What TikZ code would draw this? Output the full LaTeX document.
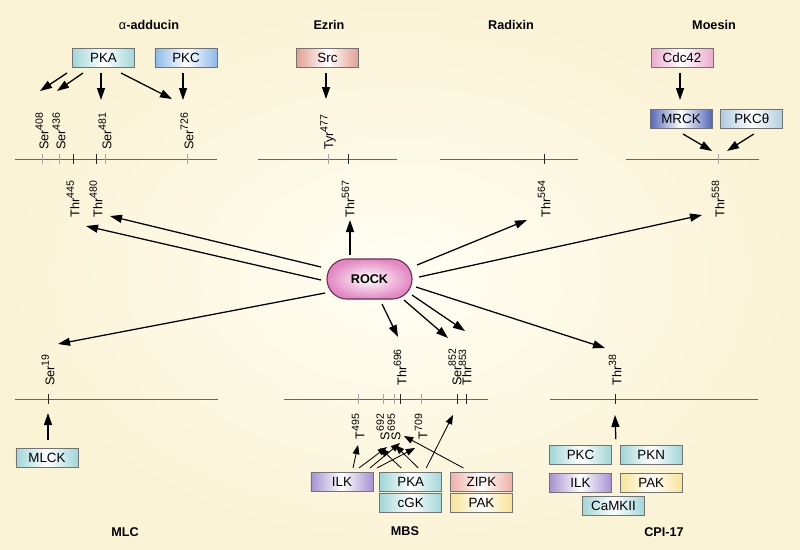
\documentclass[tikz,border=0pt]{standalone}
\usepackage{fontspec}
\setmainfont{Liberation Sans}
\usetikzlibrary{arrows.meta,positioning}

\definecolor{bgin}{RGB}{255,254,244}
\definecolor{bgout}{RGB}{251,243,214}
\definecolor{tealc}{RGB}{160,214,216}
\definecolor{bluec}{RGB}{140,186,232}
\definecolor{salmc}{RGB}{226,160,146}
\definecolor{pinkc}{RGB}{234,170,206}
\definecolor{navyc}{RGB}{84,104,186}
\definecolor{steelc}{RGB}{176,204,222}
\definecolor{lilac}{RGB}{166,146,208}
\definecolor{peach}{RGB}{236,176,166}
\definecolor{butter}{RGB}{248,228,150}
\definecolor{rockc}{RGB}{226,136,194}
\definecolor{rockd}{RGB}{110,44,84}

\newcommand{\supn}[1]{\textsuperscript{\fontsize{7.5}{7.5}\selectfont #1}}

\tikzset{
  kin/.style={draw=black!55, line width=0.5pt, minimum width=1.55cm,
    minimum height=0.475cm, inner sep=0pt, font=\fontsize{9.5}{10}\selectfont,
    left color=#1, right color=#1, middle color=white},
  title/.style={font=\fontsize{9}{10}\selectfont\bfseries},
  siteup/.style={rotate=90, anchor=west, inner sep=0pt, font=\fontsize{9}{9}\selectfont},
  sitedn/.style={rotate=90, anchor=east, inner sep=0pt, font=\fontsize{9}{9}\selectfont},
  arr/.style={-{Triangle[length=3mm,width=2mm]}, line width=0.9pt},
  sarr/.style={-{Triangle[length=2.3mm,width=1.7mm]}, line width=0.6pt},
  track/.style={draw=black!60, line width=0.7pt},
  gtick/.style={draw=black!35, line width=0.6pt},
  btick/.style={draw=black!85, line width=0.6pt},
}

\begin{document}
\begin{tikzpicture}[x=0.025cm, y=-0.025cm]
\def\ytop{159}
\def\ybot{399}
\def\yup{150}
\def\ydn{180}
\def\yupb{386}
\def\ydnb{413}

\useasboundingbox (0,0) rectangle (800,549);
\shade[inner color=bgin, outer color=bgout] (0,0) rectangle (800,549);

% titles
\node[title] (tadd) at (149,25) {{\mdseries α}-adducin};
\node[title] (tezr) at (329,25) {Ezrin};
\node[title] (trad) at (511,25) {Radixin};
\node[title] (tmoe) at (714,25) {Moesin};
\node[title] (tmlc) at (125,532) {MLC};
\node[title] (tmbs) at (405,531) {MBS};
\node[title] (tcpi) at (664,532) {CPI-17};

% tracks
\coordinate (addl) at (15,\ytop);  \coordinate (addr) at (217,\ytop);
\coordinate (ezrl) at (258,\ytop); \coordinate (ezrr) at (397,\ytop);
\coordinate (radl) at (440,\ytop); \coordinate (radr) at (578,\ytop);
\coordinate (moel) at (626,\ytop); \coordinate (moer) at (759,\ytop);
\coordinate (mlcl) at (15,\ybot);  \coordinate (mlcr) at (218,\ybot);
\coordinate (mbsl) at (284,\ybot); \coordinate (mbsr) at (488,\ybot);
\coordinate (cpil) at (550,\ybot); \coordinate (cpir) at (758,\ybot);
\draw[track] (addl) -- (addr);
\draw[track] (ezrl) -- (ezrr);
\draw[track] (radl) -- (radr);
\draw[track] (moel) -- (moer);
\draw[track] (mlcl) -- (mlcr);
\draw[track] (mbsl) -- (mbsr);
\draw[track] (cpil) -- (cpir);

% ticks, top row
\draw[gtick] (42,\ytop-5) -- (42,\ytop+5);
\draw[gtick] (59,\ytop-5) -- (59,\ytop+5);
\draw[btick] (73,\ytop-5) -- (73,\ytop+5);
\draw[btick] (96,\ytop-5) -- (96,\ytop+5);
\draw[gtick] (105,\ytop-5) -- (105,\ytop+5);
\draw[gtick] (187,\ytop-5) -- (187,\ytop+5);
\draw[gtick] (328,\ytop-5) -- (328,\ytop+5);
\draw[btick] (348,\ytop-5) -- (348,\ytop+5);
\draw[btick] (544,\ytop-5) -- (544,\ytop+5);
\draw[gtick] (718,\ytop-5) -- (718,\ytop+5);
% ticks, bottom row
\draw[btick] (48,\ybot-5) -- (48,\ybot+5);
\draw[gtick] (358,\ybot-5) -- (358,\ybot+5);
\draw[gtick] (383,\ybot-5) -- (383,\ybot+5);
\draw[gtick] (394,\ybot-5) -- (394,\ybot+5);
\draw[btick] (400,\ybot-5) -- (400,\ybot+5);
\draw[gtick] (421,\ybot-5) -- (421,\ybot+5);
\draw[btick] (457,\ybot-5) -- (457,\ybot+5);
\draw[btick] (466,\ybot-5) -- (466,\ybot+5);
\draw[btick] (615,\ybot-5) -- (615,\ybot+5);

% site labels
\node[siteup] (s408) at (42,\yup) {Ser\supn{408}};
\node[siteup] (s436) at (59,\yup) {Ser\supn{436}};
\node[siteup] (s481) at (105,\yup) {Ser\supn{481}};
\node[siteup] (s726) at (187,\yup) {Ser\supn{726}};
\node[sitedn] (t445) at (73,\ydn) {Thr\supn{445}};
\node[sitedn] (t480) at (96,\ydn) {Thr\supn{480}};
\node[siteup] (y477) at (328,\yup) {Tyr\supn{477}};
\node[sitedn] (t567) at (348,\ydn) {Thr\supn{567}};
\node[sitedn] (t564) at (544,\ydn) {Thr\supn{564}};
\node[sitedn] (t558) at (718,\ydn) {Thr\supn{558}};
\node[siteup] (s19) at (48,\yupb) {Ser\supn{19}};
\node[siteup] (t696) at (400,\yupb) {Thr\supn{696}};
\node[siteup] (s852) at (455,\yupb) {Ser\supn{852}};
\node[siteup] (t853) at (465,\yupb) {Thr\supn{853}};
\node[siteup] (t38) at (615,\yupb) {Thr\supn{38}};
\node[sitedn] (t495) at (358,\ydnb) {T\supn{495}};
\node[sitedn] (s692) at (383,\ydnb) {S\supn{692}};
\node[sitedn] (s695) at (394,\ydnb) {S\supn{695}};
\node[sitedn] (t709) at (421,\ydnb) {T\supn{709}};

% kinases
\node[kin=tealc] (pka) at (103.5,57.5) {PKA};
\node[kin=bluec] (pkc) at (186,57.5) {PKC};
\node[kin=salmc] (src) at (327.5,57.5) {Src};
\node[kin=pinkc] (cdc) at (682,57.5) {Cdc42};
\node[kin=navyc] (mrck) at (681,119) {MRCK};
\node[kin=steelc, right=0.2cm of mrck] (pkct) {PKCθ};
\node[kin=tealc] (mlck) at (47,457.5) {MLCK};
\node[kin=lilac] (milk) at (342,481.5) {ILK};
\node[kin=tealc, right=0.15cm of milk] (mpka) {PKA};
\node[kin=peach, right=0.2cm of mpka] (mzip) {ZIPK};
\node[kin=tealc, below=0.05cm of mpka] (mcgk) {cGK};
\node[kin=butter, below=0.05cm of mzip] (mpak) {PAK};
\node[kin=tealc] (cpkc) at (580.5,455) {PKC};
\node[kin=tealc, right=0.2cm of cpkc] (cpkn) {PKN};
\node[kin=lilac, below=0.2cm of cpkc] (cilk) {ILK};
\node[kin=butter, below=0.2cm of cpkn] (cpak) {PAK};
\node[kin=tealc] (ccam) at (613.5,506) {CaMKII};

% ROCK
\node[draw=rockd, line width=0.8pt, rounded corners=0.5cm, minimum width=2.125cm,
  minimum height=1cm, inner color=white, outer color=rockc,
  font=\fontsize{9}{10}\selectfont\bfseries] (rock) at (369.5,279) {ROCK};

% arrow ends
\coordinate (e408) at (40,91);
\coordinate (e436) at (57,91);
\coordinate (e481) at (101,100);
\coordinate (e726a) at (172,99);
\coordinate (e726b) at (183,100);
\coordinate (e477) at (326,99);
\coordinate (emrck) at (680,100);
\coordinate (e558a) at (712,151);
\coordinate (e558b) at (727,151);
\coordinate (e19) at (48,413);
\coordinate (e38) at (615,415);

\draw[arr] ([shift={(-36.5,15.5)}]pka.center) -- (e408);
\draw[arr] ([shift={(-20.5,15.5)}]pka.center) -- (e436);
\draw[arr] ([shift={(-2.5,15.5)}]pka.center) -- (e481);
\draw[arr] ([shift={(17.5,15.5)}]pka.center) -- (e726a);
\draw[arr] ([shift={(-3,15.5)}]pkc.center) -- (e726b);
\draw[arr] ([shift={(-1.5,15.5)}]src.center) -- (e477);
\draw[arr] ([shift={(-2,15.5)}]cdc.center) -- (emrck);
\draw[arr] ([shift={(2,15)}]mrck.center) -- (e558a);
\draw[arr] ([shift={(2,15)}]pkct.center) -- (e558b);
\draw[arr] ([shift={(1,-17.5)}]mlck.center) -- (e19);
\draw[arr] ([shift={(4,-6)}]cpkc.north east) -- (e38);

% ROCK targets
\coordinate (r567) at (350,220);
\coordinate (r480) at (110,216);
\coordinate (r445) at (86,226);
\coordinate (r19) at (58,344);
\coordinate (r564) at (527,220);
\coordinate (r558) at (702,215);
\coordinate (r38) at (605,348);
\coordinate (r696) at (398,337);
\coordinate (r852) at (448,338);
\coordinate (r853) at (465,331);

\draw[arr] ([shift={(-19.5,-24)}]rock.center) -- (r567);
\draw[arr] ([shift={(-48.5,-12)}]rock.center) -- (r480);
\draw[arr] ([shift={(-48.5,1)}]rock.center) -- (r445);
\draw[arr] ([shift={(-44.5,14)}]rock.center) -- (r19);
\draw[arr] ([shift={(47.5,-14)}]rock.center) -- (r564);
\draw[arr] ([shift={(49.5,-2)}]rock.center) -- (r558);
\draw[arr] ([shift={(46.5,8)}]rock.center) -- (r38);
\draw[arr] ([shift={(12.5,25)}]rock.center) -- (r696);
\draw[arr] ([shift={(34.5,21)}]rock.center) -- (r852);
\draw[arr] ([shift={(42.5,16)}]rock.center) -- (r853);

% MBS kinases
\coordinate (m495) at (358,445);
\coordinate (m692a) at (387,447);
\coordinate (m692b) at (380,448);
\coordinate (m695a) at (400,443);
\coordinate (m695b) at (395,445);
\coordinate (m695c) at (404,436);
\coordinate (m709) at (415,448);
\coordinate (m852) at (453,415);

\draw[sarr] ([shift={(11,-13.5)}]milk.center) -- (m495);
\draw[sarr] ([shift={(17,-13.5)}]milk.center) -- (m692a);
\draw[sarr] ([shift={(28,-13.5)}]milk.center) -- (m695a);
\draw[sarr] ([shift={(35,-13.5)}]milk.center) -- (m709);
\draw[sarr] ([shift={(-9.5,-13.5)}]mpka.center) -- (m692b);
\draw[sarr] ([shift={(7.5,-13.5)}]mpka.center) -- (m695b);
\draw[sarr] ([shift={(15.5,-13.5)}]mpka.center) -- (m852);
\draw[sarr] ([shift={(-18,-13.5)}]mzip.center) -- (m695c);

\end{tikzpicture}
\end{document}
